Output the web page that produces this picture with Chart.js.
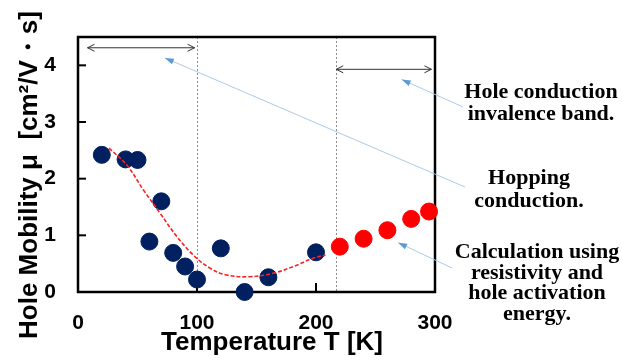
<!DOCTYPE html>
<html>
<head>
<meta charset="utf-8">
<script src="https://cdn.jsdelivr.net/npm/chart.js@4.4.1/dist/chart.umd.min.js"></script>
<style>
  html, body { margin: 0; padding: 0; background: #fff; }
</style>
</head>
<body>
<canvas id="chart" width="622" height="363"></canvas>
<script>
// values
const xTicks = [0, 100, 200, 300];
const yTicks = [0, 1, 2, 3, 4];
const tempMeasured = [20, 40, 50, 60, 70, 80, 90, 100, 120, 140, 160, 200];
const muMeasured = [2.42, 2.34, 2.33, 0.89, 1.60, 0.69, 0.45, 0.22, 0.77, 0.00, 0.26, 0.70];
const tempCalc = [220, 240, 260, 280, 295];
const muCalc = [0.80, 0.94, 1.09, 1.29, 1.42];
const fitT = [26, 41, 55, 69, 83, 97, 111, 125, 144, 164, 181, 198, 208];
const fitMu = [2.54, 2.24, 1.80, 1.39, 0.98, 0.65, 0.42, 0.30, 0.27, 0.33, 0.45, 0.60, 0.65];
const regionBounds = [100, 217];

const SANS = '"Liberation Sans", Arial, sans-serif';
const SERIF = '"Liberation Serif", "Times New Roman", serif';

// annotation layout (not data)
const rangeArrows = [
  { from: [8, 4.31], to: [98, 4.31] },
  { from: [217, 3.93], to: [297, 3.93] }
];
const notes = [
  { lines: ['Hole conduction', 'invalence band.'], cx: 541, y: 98, lh: 22, tail: [463, 107], tip: [272, 3.75] },
  { lines: ['Hopping', 'conduction.'], cx: 529, y: 184, lh: 23, tail: [465, 187], tip: [73, 4.13] },
  { lines: ['Calculation using', 'resistivity and', 'hole activation', 'energy.'], cx: 537, y: 258, lh: 20.5, tail: [452, 268], tip: [269, 0.87] }
];

const toPts = (xs, ys) => xs.map((v, i) => ({ x: v, y: ys[i] }));

function arrowHead(ctx, x1, y1, x2, y2, len, wid, filled) {
  const ang = Math.atan2(y2 - y1, x2 - x1);
  const ax = x2 - len * Math.cos(ang), ay = y2 - len * Math.sin(ang);
  const nx = -Math.sin(ang) * wid / 2, ny = Math.cos(ang) * wid / 2;
  ctx.beginPath();
  ctx.moveTo(ax + nx, ay + ny);
  ctx.lineTo(x2, y2);
  ctx.lineTo(ax - nx, ay - ny);
  if (filled) { ctx.closePath(); ctx.fill(); } else ctx.stroke();
}

const overlay = {
  id: 'overlay',
  beforeDatasetsDraw(chart) {
    const { ctx, chartArea: a, scales: { x, y } } = chart;
    ctx.save();
    // dotted region separators
    ctx.strokeStyle = '#8a8a8a';
    ctx.lineWidth = 1;
    ctx.setLineDash([2, 2]);
    regionBounds.forEach(t => {
      const px = Math.round(x.getPixelForValue(t)) + 0.5;
      ctx.beginPath(); ctx.moveTo(px, a.top); ctx.lineTo(px, a.bottom); ctx.stroke();
    });
    ctx.setLineDash([]);
    // frame
    ctx.strokeStyle = '#000';
    ctx.lineWidth = 2.5;
    ctx.strokeRect(a.left, a.top, a.right - a.left, a.bottom - a.top);
    // inward ticks
    ctx.lineWidth = 2;
    xTicks.slice(1, -1).forEach(v => {
      const px = x.getPixelForValue(v);
      ctx.beginPath(); ctx.moveTo(px, a.bottom); ctx.lineTo(px, a.bottom - 9); ctx.stroke();
    });
    yTicks.slice(1).forEach(v => {
      const py = y.getPixelForValue(v);
      ctx.beginPath(); ctx.moveTo(a.left, py); ctx.lineTo(a.left + 8, py); ctx.stroke();
    });
    // double arrows for the conduction regions
    ctx.strokeStyle = '#333';
    ctx.lineWidth = 1;
    rangeArrows.forEach(r => {
      const x1 = x.getPixelForValue(r.from[0]), y1 = y.getPixelForValue(r.from[1]);
      const x2 = x.getPixelForValue(r.to[0]), y2 = y.getPixelForValue(r.to[1]);
      ctx.beginPath(); ctx.moveTo(x1, y1); ctx.lineTo(x2, y2); ctx.stroke();
      arrowHead(ctx, x1, y1, x2, y2, 7, 7, false);
      arrowHead(ctx, x2, y2, x1, y1, 7, 7, false);
    });
    ctx.restore();
  },
  afterDraw(chart) {
    const { ctx, chartArea: a, scales: { x, y } } = chart;
    ctx.save();
    // callouts
    notes.forEach(n => {
      const tx = x.getPixelForValue(n.tip[0]), ty = y.getPixelForValue(n.tip[1]);
      ctx.strokeStyle = '#a9cbe8';
      ctx.lineWidth = 1;
      ctx.beginPath(); ctx.moveTo(n.tail[0], n.tail[1]); ctx.lineTo(tx, ty); ctx.stroke();
      ctx.fillStyle = '#5b9bd5';
      arrowHead(ctx, n.tail[0], n.tail[1], tx, ty, 9, 6, true);
      ctx.fillStyle = '#000';
      ctx.font = 'bold 22px ' + SERIF;
      ctx.textAlign = 'center';
      ctx.textBaseline = 'alphabetic';
      n.lines.forEach((l, i) => ctx.fillText(l, n.cx, n.y + i * n.lh));
    });
    // axis titles
    ctx.fillStyle = '#000';
    ctx.font = 'bold 26px ' + SANS;
    ctx.textAlign = 'center';
    ctx.textBaseline = 'alphabetic';
    ctx.fillText('Temperature T [K]', 272, 350);
    ctx.translate(37, 175);
    ctx.rotate(-Math.PI / 2);
    ctx.fillText('Hole Mobility \u03bc  [cm\u00b2/V\u30fbs]', 0, 0);
    ctx.restore();
  }
};

new Chart(document.getElementById('chart'), {
  type: 'scatter',
  data: {
    datasets: [
      {
        type: 'line',
        data: toPts(fitT, fitMu),
        borderColor: '#ff2020',
        borderWidth: 1.6,
        borderDash: [4, 2],
        tension: 0.4,
        pointRadius: 0,
        fill: false
      },
      {
        data: toPts(tempMeasured, muMeasured),
        backgroundColor: '#002060',
        borderColor: '#002060',
        pointRadius: 8.5,
        clip: false
      },
      {
        data: toPts(tempCalc, muCalc),
        backgroundColor: '#ff0000',
        borderColor: '#ff0000',
        pointRadius: 8.5,
        clip: false
      }
    ]
  },
  options: {
    responsive: false,
    animation: false,
    devicePixelRatio: 1,
    layout: { padding: { top: 37, right: 187, left: 0, bottom: 0 } },
    plugins: { legend: { display: false }, tooltip: { enabled: false } },
    scales: {
      x: {
        type: 'linear',
        min: 0,
        max: 300,
        afterFit: s => { s.height = 71; },
        afterBuildTicks: s => { s.ticks = xTicks.map(v => ({ value: v })); },
        grid: { display: false, drawTicks: false },
        border: { display: false },
        ticks: { color: '#000', padding: 19, font: { family: SANS, size: 21, weight: 'bold' } }
      },
      y: {
        type: 'linear',
        min: 0,
        max: 4.5,
        afterFit: s => { s.width = 78; },
        afterBuildTicks: s => { s.ticks = yTicks.map(v => ({ value: v })); },
        grid: { display: false, drawTicks: false },
        border: { display: false },
        ticks: { color: '#000', padding: 22, font: { family: SANS, size: 21, weight: 'bold' } }
      }
    }
  },
  plugins: [overlay]
});
</script>
</body>
</html>
